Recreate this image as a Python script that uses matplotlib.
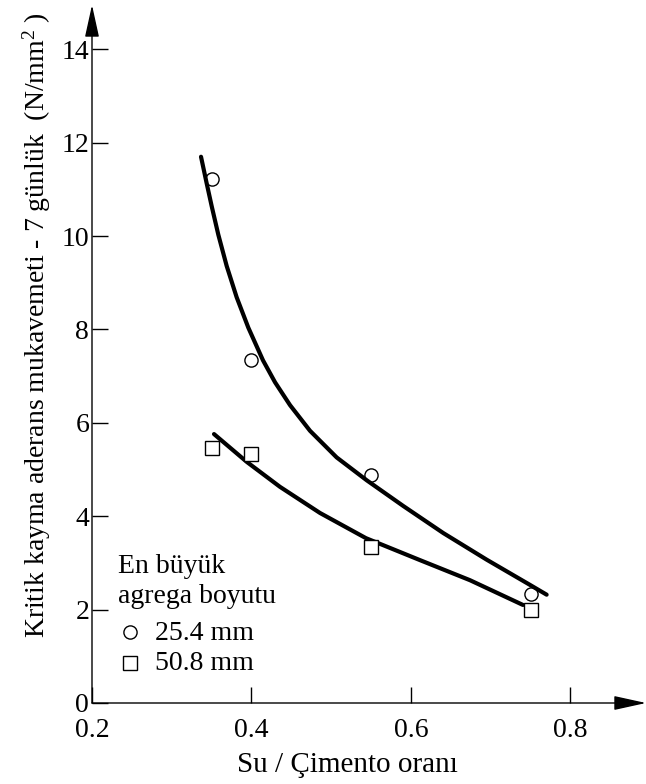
import matplotlib
matplotlib.use('Agg')
import matplotlib.pyplot as plt

plt.rcParams['font.family'] = ['Liberation Serif', 'DejaVu Serif']
plt.rcParams['mathtext.fontset'] = 'custom'
plt.rcParams['mathtext.rm'] = 'Liberation Serif'
plt.rcParams['mathtext.it'] = 'Liberation Serif:italic'

# measured points
wc_25 = [0.35, 0.40, 0.55, 0.75]
str_25 = [11.22, 7.34, 4.88, 2.33]
wc_50 = [0.35, 0.40, 0.55, 0.75]
str_50 = [5.46, 5.33, 3.34, 1.99]

# fitted curves
fit_x_25 = [0.3367, 0.3438, 0.3501, 0.3584, 0.3689, 0.3814, 0.3960, 0.4144,
            0.4295, 0.4483, 0.4734, 0.5068, 0.5445, 0.5903, 0.6405, 0.6949,
            0.7492, 0.7701]
fit_y_25 = [11.70, 11.13, 10.64, 10.03, 9.36, 8.69, 8.04, 7.34,
            6.87, 6.38, 5.83, 5.26, 4.77, 4.22, 3.64, 3.07,
            2.53, 2.32]
fit_x_50 = [0.3530, 0.3944, 0.4357, 0.4859, 0.5436, 0.6113, 0.6740, 0.7404]
fit_y_50 = [5.76, 5.16, 4.63, 4.07, 3.53, 3.06, 2.63, 2.10]

x_ticks = [0.2, 0.4, 0.6, 0.8]
y_ticks = [0, 2, 4, 6, 8, 10, 12, 14]

fig = plt.figure(figsize=(6.46, 7.84), dpi=100)
ax = fig.add_axes([92 / 646, 1 - 703 / 784, (646 - 92) / 646, (703 - 5) / 784])
ax.set_xlim(0.2, 0.8947)
ax.set_ylim(0, 14.95)

for s in ax.spines.values():
    s.set_visible(False)

# axes with arrows
arrow = dict(arrowstyle='-|>,head_length=1.0,head_width=0.22', lw=1.0,
             color='black', mutation_scale=20, shrinkA=0, shrinkB=0)
ax.annotate('', xy=(1, 0), xytext=(0, 0), xycoords='axes fraction',
            arrowprops=arrow)
ax.annotate('', xy=(0, 1), xytext=(0, 0), xycoords='axes fraction',
            arrowprops=arrow)

ax.set_xticks(x_ticks)
ax.set_yticks(y_ticks)
ax.set_xticklabels([f'{v:.1f}' for v in x_ticks])
ax.tick_params(direction='in', length=11.5, width=1, labelsize=20)
ax.tick_params(axis='x', pad=11)
ax.tick_params(axis='y', pad=2)

# curves and points
ax.plot(fit_x_25, fit_y_25, color='black', lw=3, zorder=3,
        solid_capstyle='round', solid_joinstyle='round')
ax.plot(fit_x_50, fit_y_50, color='black', lw=3, zorder=3,
        solid_capstyle='round', solid_joinstyle='round')
ax.plot(wc_25, str_25, 'o', ms=9.5, mfc='white', mec='black', mew=1, zorder=2)
ax.plot(wc_50, str_50, 's', ms=10.5, mfc='white', mec='black', mew=1, zorder=4)

# legend drawn by hand
ax.text(0.2326, 2.78, 'En büyük', fontsize=20, va='baseline', ha='left')
ax.text(0.2326, 2.14, 'agrega boyutu', fontsize=20, va='baseline', ha='left')
ax.plot([0.2476], [1.53], 'o', ms=9.5, mfc='white', mec='black', mew=1,
        clip_on=False)
ax.text(0.279, 1.35, '25.4 mm', fontsize=20, va='baseline', ha='left')
ax.plot([0.2476], [0.85], 's', ms=10.5, mfc='white', mec='black', mew=1,
        clip_on=False)
ax.text(0.279, 0.71, '50.8 mm', fontsize=20, va='baseline', ha='left')

fig.text(37 / 646, 1 - 325 / 784,
         'Kritik kayma aderans mukavemeti - 7 günlük  (N/mm$^{2}$ )',
         rotation=90, ha='center', va='center', fontsize=20)
fig.text(347 / 646, 1 - 765 / 784, 'Su / Çimento oranı',
         ha='center', va='center', fontsize=21)

fig.savefig('out.png', dpi=100)
